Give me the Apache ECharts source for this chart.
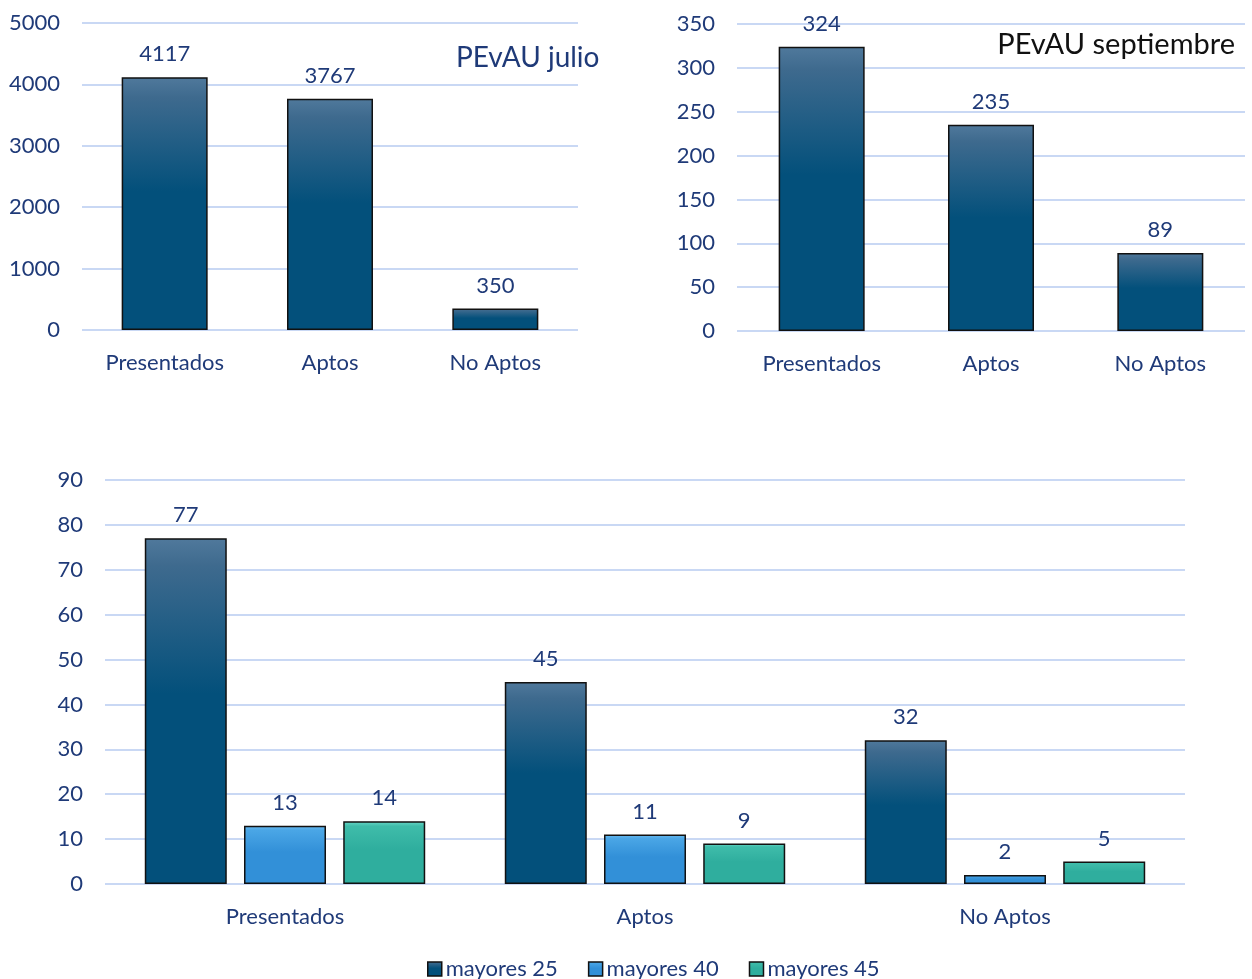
<!DOCTYPE html>
<html>
<head>
<meta charset="utf-8">
<script src="https://cdn.jsdelivr.net/npm/echarts@6/dist/echarts.min.js"></script>
<style>
  html, body { margin: 0; padding: 0; background: #fff; }
  #main { width: 1252px; height: 979px; }
</style>
</head>
<body>
<div id="main"></div>
<script>
var categories = ['Presentados', 'Aptos', 'No Aptos']
var julio_values = [4117, 3767, 350]
var septiembre_values = [324, 235, 89]
var mayores_names = ['mayores 25', 'mayores 40', 'mayores 45']
var mayores25_values = [77, 45, 32]
var mayores40_values = [13, 11, 2]
var mayores45_values = [14, 9, 5]

var text_color = '#1f3a78'
var grid_color = '#c9d8f4'
var font = 'Lato, "Open Sans", sans-serif'

function bevel(light, main, dark) {
  return new echarts.graphic.LinearGradient(0, 0, 0, 1, [
    { offset: 0, color: light },
    { offset: 0.08, color: main },
    { offset: 0.45, color: dark },
    { offset: 1, color: dark }
  ])
}

var color25 = bevel('#50799c', '#3e6a8e', '#03507b')
var color40 = bevel('#6cbcf0', '#4aa6e6', '#3290d8')
var color45 = bevel('#6cd8ca', '#3fbcaa', '#2fae9e')

function valueAxis(grid, max, interval) {
  return {
    type: 'value', gridIndex: grid, min: 0, max: max, interval: interval,
    axisLine: { show: false }, axisTick: { show: false },
    axisLabel: { color: text_color, fontSize: 22, fontFamily: font, margin: 22,
      formatter: function(v) { return String(v) } },
    splitLine: { lineStyle: { color: grid_color, width: 2 } }
  }
}

function categoryAxis(grid) {
  return {
    type: 'category', gridIndex: grid, data: categories,
    axisLine: { show: false }, axisTick: { show: false },
    axisLabel: { color: text_color, fontSize: 22, fontFamily: font, margin: 22 }
  }
}

var label = { show: true, position: 'top', distance: 12, color: text_color, fontSize: 22, fontFamily: font }
var border = { borderColor: '#111', borderWidth: 1.5 }

var chart = echarts.init(document.getElementById('main'))
chart.setOption({
  animation: false,
  title: [
    { text: 'PEvAU julio', left: 451, top: 39, textStyle: { color: '#1f3a78', fontSize: 28, fontWeight: 'normal', fontFamily: font } },
    { text: 'PEvAU septiembre', right: 12, top: 25, textStyle: { color: '#111', fontSize: 29, fontWeight: 'normal', fontFamily: font } }
  ],
  grid: [
    { left: 82, right: 674, top: 23, bottom: 649 },
    { left: 737, right: 7, top: 24, bottom: 648 },
    { left: 105, right: 67, top: 480, bottom: 95 }
  ],
  legend: {
    data: mayores_names, bottom: -6, left: 422, itemWidth: 14, itemHeight: 14, itemGap: 30,
    icon: 'rect', itemStyle: { borderColor: '#111', borderWidth: 1.5 },
    textStyle: { color: text_color, fontSize: 22, fontFamily: font, padding: [0, 0, 0, -1] }
  },
  xAxis: [categoryAxis(0), categoryAxis(1), categoryAxis(2)],
  yAxis: [valueAxis(0, 5000, 1000), valueAxis(1, 350, 50), valueAxis(2, 90, 10)],
  series: [
    { type: 'bar', xAxisIndex: 0, yAxisIndex: 0, data: julio_values, barWidth: 86,
      itemStyle: Object.assign({ color: color25 }, border), label: label },
    { type: 'bar', xAxisIndex: 1, yAxisIndex: 1, data: septiembre_values, barWidth: 86,
      itemStyle: Object.assign({ color: color25 }, border), label: label },
    { name: mayores_names[0], type: 'bar', xAxisIndex: 2, yAxisIndex: 2, data: mayores25_values,
      barWidth: 82, barGap: '21%', itemStyle: Object.assign({ color: color25 }, border), label: label },
    { name: mayores_names[1], type: 'bar', xAxisIndex: 2, yAxisIndex: 2, data: mayores40_values,
      barWidth: 82, barGap: '21%', itemStyle: Object.assign({ color: color40 }, border), label: label },
    { name: mayores_names[2], type: 'bar', xAxisIndex: 2, yAxisIndex: 2, data: mayores45_values,
      barWidth: 82, barGap: '21%', itemStyle: Object.assign({ color: color45 }, border), label: label }
  ]
})
</script>
</body>
</html>
